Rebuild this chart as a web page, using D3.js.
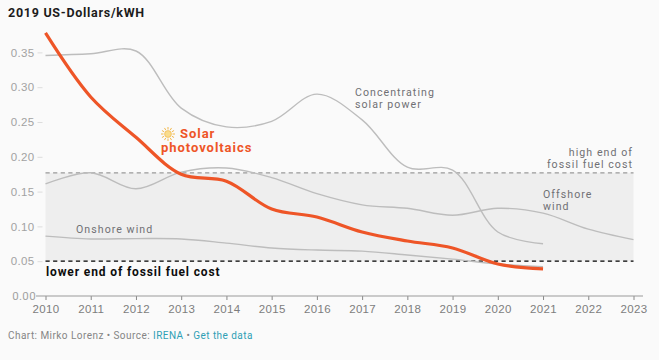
<!DOCTYPE html>
<html>
<head>
<meta charset="utf-8">
<script src="https://cdnjs.cloudflare.com/ajax/libs/d3/7.8.5/d3.min.js"></script>
<style>
  html, body { margin: 0; padding: 0; background: #fafafa; }
  svg { display: block; font-family: Roboto, sans-serif; }
  .tick text { fill: #7d7d7d; font-size: 11.5px; letter-spacing: .35px; }
  .y-os .tick text { fill: #a2a2a2; }
  .label { fill: #707074; font-size: 10.6px; letter-spacing: 1.05px; }
</style>
</head>
<body>
<div id="okvir"></div>
<script>
const years = [2010, 2011, 2012, 2013, 2014, 2015, 2016, 2017, 2018, 2019, 2020, 2021, 2022, 2023]
const yTicks = [0, 0.05, 0.1, 0.15, 0.2, 0.25, 0.3, 0.35]

const solar = [0.378, 0.286, 0.228, 0.175, 0.165, 0.125, 0.1135, 0.092, 0.079, 0.069, 0.046, 0.039]
const csp = [0.3455, 0.348, 0.352, 0.27, 0.243, 0.251, 0.29, 0.253, 0.185, 0.181, 0.092, 0.075]
const offshore = [0.161, 0.177, 0.154, 0.178, 0.184, 0.17, 0.147, 0.131, 0.126, 0.116, 0.126, 0.119, 0.096, 0.081]
const onshore = [0.086, 0.082, 0.0825, 0.082, 0.076, 0.069, 0.066, 0.0645, 0.059, 0.053, 0.046, 0.042]

const fossilLow = 0.05
const fossilHigh = 0.177

const dimenzije = { sirina: 659, visina: 360, margine: { top: 33, left: 45.5, right: 25.5, bottom: 64 } }

const okvir = d3.select("#okvir").append("svg")
    .attr("width", dimenzije.sirina)
    .attr("height", dimenzije.visina)

const xSkala = d3.scaleLinear()
  .domain([2010, 2023])
  .range([dimenzije.margine.left, dimenzije.sirina - dimenzije.margine.right])

const ySkala = d3.scaleLinear()
  .domain([0, 0.378])
  .range([dimenzije.visina - dimenzije.margine.bottom, dimenzije.visina - dimenzije.margine.bottom - 0.378 * 696])

// pojas fosilnih goriva
okvir.append("rect")
    .attr("x", xSkala(2010))
    .attr("y", ySkala(fossilHigh))
    .attr("width", xSkala(2023) - xSkala(2010))
    .attr("height", ySkala(fossilLow) - ySkala(fossilHigh))
    .attr("fill", "#eeeeee")

// osi
const xOs = okvir.append("g")
    .attr("transform", `translate(0, ${ySkala(0)})`)
    .call(d3.axisBottom(xSkala).tickValues(years).tickFormat(d3.format("d")).tickSize(4).tickPadding(5))
xOs.select(".domain").remove()
xOs.selectAll("line").attr("stroke", "#888")
xOs.append("line")
    .attr("x1", 36).attr("x2", 643)
    .attr("stroke", "#999").attr("stroke-width", 1.2)

const yOs = okvir.append("g")
    .attr("class", "y-os")
    .attr("transform", `translate(${xSkala(2010)}, 0)`)
    .call(d3.axisLeft(ySkala).tickValues(yTicks.slice(1)).tickFormat(d3.format(".2f")).tickSize(5).tickPadding(3))
yOs.select(".domain").remove()
yOs.selectAll("line").attr("stroke", "#ddd").attr("transform", "translate(-3,0)")
yOs.selectAll("text").attr("dx", -3)
okvir.append("text")
    .attr("x", 36)
    .attr("y", ySkala(0))
    .attr("dy", "0.32em")
    .attr("text-anchor", "end")
    .attr("fill", "#a2a2a2")
    .style("font-size", "11.5px")
    .style("letter-spacing", ".35px")
    .text(d3.format(".2f")(yTicks[0]))

// isprekidane linije
const dashed = [[fossilHigh, "#999"], [fossilLow, "#000"]]
okvir.selectAll(".prag")
  .data(dashed)
  .join("line")
    .attr("class", "prag")
    .attr("x1", xSkala(2010))
    .attr("x2", xSkala(2023))
    .attr("y1", d => ySkala(d[0]))
    .attr("y2", d => ySkala(d[0]))
    .attr("stroke", d => d[1])
    .attr("stroke-width", 1.2)
    .attr("stroke-dasharray", "4.2 3.4")

// linije
const linija = d3.line()
  .x((d, i) => xSkala(years[i]))
  .y(d => ySkala(d))
  .curve(d3.curveCatmullRom.alpha(0.5))

const serije = [
  { vals: onshore, color: "#bdbdbd", w: 1.4 },
  { vals: offshore, color: "#bdbdbd", w: 1.4 },
  { vals: csp, color: "#bdbdbd", w: 1.4 },
  { vals: solar, color: "#ee5527", w: 3.2 },
]
okvir.selectAll(".serija")
  .data(serije)
  .join("path")
    .attr("class", "serija")
    .attr("fill", "none")
    .attr("stroke", d => d.color)
    .attr("stroke-width", d => d.w)
    .attr("d", d => linija(d.vals))

// tekstovi
const tekst = (x, y, t, cls) => okvir.append("text").attr("x", x).attr("y", y).attr("class", cls || "label").text(t)

tekst(8, 16.5, "2019 US-Dollars/kWH", "naslov")
    .attr("fill", "#1c1c1c").style("font-size", "12.5px").style("font-weight", 700).style("letter-spacing", ".72px")

tekst(355, 96, "Concentrating")
tekst(355, 107.5, "solar power")
tekst(633, 156, "high end of").attr("text-anchor", "end")
tekst(633, 168, "fossil fuel cost").attr("text-anchor", "end")
tekst(543, 198, "Offshore")
tekst(543, 210, "wind")
tekst(76, 233, "Onshore wind")
tekst(46, 276, "lower end of fossil fuel cost", "donja")
    .attr("fill", "#0d0d0d").style("font-size", "12px").style("font-weight", 700).style("letter-spacing", ".87px")

const solarna = [["Solar", 180, 138], ["photovoltaics", 161, 152]]
solarna.forEach(s => {
  tekst(s[1], s[2], s[0], "solar")
    .attr("fill", "#ee5527").style("font-size", "13px").style("font-weight", 700).style("letter-spacing", ".95px")
})

// sunce
const sunce = okvir.append("g").attr("transform", "translate(168, 134)")
sunce.selectAll("line")
  .data(d3.range(12))
  .join("line")
    .attr("x1", d => Math.cos(d * Math.PI / 6) * 4.5)
    .attr("y1", d => Math.sin(d * Math.PI / 6) * 4.5)
    .attr("x2", d => Math.cos(d * Math.PI / 6) * 7)
    .attr("y2", d => Math.sin(d * Math.PI / 6) * 7)
    .attr("stroke", "#f2b84b")
    .attr("stroke-width", 1)
sunce.append("circle").attr("r", 3.4).attr("fill", "#f9dc8c").attr("stroke", "#f2b84b").attr("stroke-width", .7)

// izvor
const izvor = okvir.append("text")
    .attr("x", 8).attr("y", 338.5)
    .attr("fill", "#858585")
    .style("font-size", "10px")
    .style("letter-spacing", ".45px")
izvor.append("tspan").text("Chart: Mirko Lorenz • Source: ")
izvor.append("tspan").attr("fill", "#2f9fb5").text("IRENA")
izvor.append("tspan").text(" • ")
izvor.append("tspan").attr("fill", "#2f9fb5").text("Get the data")
</script>
</body>
</html>
